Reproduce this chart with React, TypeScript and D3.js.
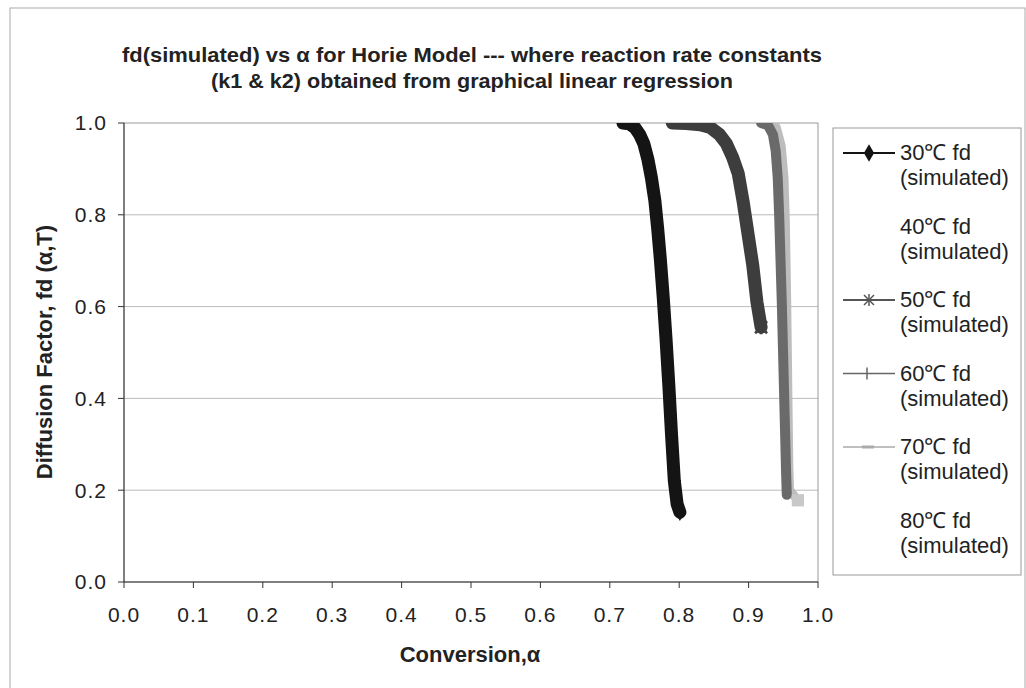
import * as d3 from 'd3';

// fd (simulated) vs conversion alpha
const alpha30 = [0.719, 0.728, 0.736, 0.743, 0.749, 0.755, 0.760, 0.765, 0.769, 0.773, 0.777, 0.781, 0.785, 0.789, 0.793, 0.797, 0.801];
const fd30 = [1.0, 0.998, 0.99, 0.975, 0.955, 0.92, 0.88, 0.83, 0.77, 0.70, 0.62, 0.53, 0.43, 0.32, 0.22, 0.17, 0.152];

const alpha50 = [0.79, 0.81, 0.83, 0.845, 0.858, 0.868, 0.877, 0.885, 0.892, 0.899, 0.906, 0.912, 0.918];
const fd50 = [1.0, 0.999, 0.996, 0.99, 0.975, 0.955, 0.925, 0.89, 0.83, 0.76, 0.69, 0.61, 0.555];

const alpha60 = [0.918, 0.928, 0.935, 0.939, 0.942, 0.944, 0.946, 0.948, 0.950, 0.952, 0.954, 0.955];
const fd60 = [1.0, 0.995, 0.975, 0.94, 0.88, 0.8, 0.7, 0.6, 0.48, 0.36, 0.24, 0.19];

const alpha70 = [0.93, 0.94, 0.947, 0.951, 0.953, 0.955, 0.956, 0.957, 0.958, 0.959, 0.971];
const fd70 = [1.0, 0.99, 0.95, 0.88, 0.78, 0.6, 0.48, 0.36, 0.25, 0.2, 0.178];

const legendLabels = ['30℃ fd', '40℃ fd', '50℃ fd', '60℃ fd', '70℃ fd', '80℃ fd'];
const xTicks = [0, 0.1, 0.2, 0.3, 0.4, 0.5, 0.6, 0.7, 0.8, 0.9, 1.0];
const yTicks = [0, 0.2, 0.4, 0.6, 0.8, 1.0];

const FONT = '"Liberation Sans", Arial, sans-serif';

type Pt = [number, number];
const zip = (a: number[], b: number[]): Pt[] => a.map((v, i) => [v, b[i]]);

export default function App() {
  const width = 1026;
  const height = 688;
  const x = d3.scaleLinear().domain([0, 1]).range([124, 818]);
  const y = d3.scaleLinear().domain([0, 1]).range([582, 123]);
  const line = d3.line<Pt>().x((d) => x(d[0])).y((d) => y(d[1]));

  const diamond = d3.symbol().type(d3.symbolDiamond).size(90)() as string;
  const square = d3.symbol().type(d3.symbolSquare).size(150)() as string;

  const series = [
    { pts: zip(alpha70, fd70), color: '#bdbdbd', w: 9 },
    { pts: zip(alpha30, fd30), color: '#141414', w: 13 },
    { pts: zip(alpha50, fd50), color: '#3d3d3d', w: 13 },
    { pts: zip(alpha60, fd60), color: '#6a6a6a', w: 10 },
  ];

  const legendTop = 153;
  const legendStep = 73.5;

  return (
    <svg
      width={width}
      height={height}
      style={{ position: 'absolute', left: 0, top: 0, background: '#fff' }}
      fontFamily={FONT}
    >
      <rect x={10} y={8} width={1015} height={700} fill="#fff" stroke="#aaa" />

      {/* title */}
      <text x={472} y={62} textAnchor="middle" fontSize={21} fontWeight="bold" fill="#222"
        textLength={700} lengthAdjust="spacingAndGlyphs">
        fd(simulated) vs α for Horie Model --- where reaction rate constants
      </text>
      <text x={472} y={88} textAnchor="middle" fontSize={21} fontWeight="bold" fill="#222"
        textLength={522} lengthAdjust="spacingAndGlyphs">
        (k1 &amp; k2) obtained from graphical linear regression
      </text>

      {/* grid */}
      {yTicks.filter((t) => t > 0 && t < 1).map((t) => (
        <line key={t} x1={x(0)} x2={x(1)} y1={y(t)} y2={y(t)} stroke="#bbb" />
      ))}
      <rect x={x(0)} y={y(1)} width={x(1) - x(0)} height={y(0) - y(1)} fill="none" stroke="#999" />

      {/* series */}
      <g clipPath="url(#plotClip)">
        {series.map((s, i) => (
          <path key={i} d={line(s.pts) ?? ''} fill="none" stroke={s.color} strokeWidth={s.w}
            strokeLinejoin="round" strokeLinecap="round" />
        ))}
      </g>
      <defs>
        <clipPath id="plotClip">
          <rect x={x(0)} y={y(1)} width={x(1) - x(0) + 30} height={y(0) - y(1)} />
        </clipPath>
      </defs>
      {/* end markers */}
      <path d={diamond} transform={`translate(${x(alpha30[alpha30.length - 1])},${y(fd30[fd30.length - 1])})`} fill="#141414" />
      <path d={square} transform={`translate(${x(alpha70[alpha70.length - 1])},${y(fd70[fd70.length - 1])})`} fill="#c8c8c8" />
      <g transform={`translate(${x(alpha50[alpha50.length - 1])},${y(fd50[fd50.length - 1])})`} stroke="#3d3d3d" strokeWidth={2.5}>
        <line x1={-6} x2={6} y1={-6} y2={6} />
        <line x1={-6} x2={6} y1={6} y2={-6} />
        <line x1={0} x2={0} y1={-7} y2={7} />
      </g>

      {/* axes */}
      <line x1={x(0)} x2={x(0)} y1={y(0)} y2={y(1)} stroke="#333" />
      <line x1={x(0)} x2={x(1)} y1={y(0)} y2={y(0)} stroke="#333" />
      {yTicks.map((t) => (
        <g key={t}>
          <line x1={x(0) - 6} x2={x(0)} y1={y(t)} y2={y(t)} stroke="#333" />
          <text x={107} y={y(t)} dy="0.35em" textAnchor="end" fontSize={21} fill="#222" letterSpacing={1}>
            {t.toFixed(1)}
          </text>
        </g>
      ))}
      {xTicks.map((t) => (
        <g key={t}>
          <line x1={x(t)} x2={x(t)} y1={y(0)} y2={y(0) + 6} stroke="#333" />
          <text x={x(t)} y={615} dy="0.35em" textAnchor="middle" fontSize={21} fill="#222" letterSpacing={1}>
            {t.toFixed(1)}
          </text>
        </g>
      ))}

      <text x={470} y={662} textAnchor="middle" fontSize={22} fontWeight="bold" fill="#222">
        Conversion,α
      </text>
      <text transform="translate(52,352) rotate(-90)" textAnchor="middle" fontSize={22} fontWeight="bold" fill="#222">
        Diffusion Factor, fd (α,T)
      </text>

      {/* legend */}
      <rect x={833} y={128} width={188} height={447} fill="#fff" stroke="#999" />
      {legendLabels.map((lab, i) => {
        const yc = legendTop + i * legendStep;
        return (
          <g key={lab}>
            {i === 0 && (
              <>
                <line x1={843} x2={895} y1={yc} y2={yc} stroke="#141414" strokeWidth={2} />
                <path d={diamond} transform={`translate(869,${yc})`} fill="#141414" />
              </>
            )}
            {i === 2 && (
              <>
                <line x1={843} x2={895} y1={yc} y2={yc} stroke="#555" strokeWidth={2} />
                <g transform={`translate(869,${yc})`} stroke="#555" strokeWidth={1.5}>
                  <line x1={-5} x2={5} y1={-5} y2={5} />
                  <line x1={-5} x2={5} y1={5} y2={-5} />
                  <line x1={0} x2={0} y1={-6} y2={6} />
                </g>
              </>
            )}
            {i === 3 && (
              <>
                <line x1={843} x2={895} y1={yc} y2={yc} stroke="#666" strokeWidth={1.5} />
                <line x1={867} x2={867} y1={yc - 6} y2={yc + 6} stroke="#666" strokeWidth={1.5} />
              </>
            )}
            {i === 4 && (
              <>
                <line x1={843} x2={895} y1={yc} y2={yc} stroke="#aaa" strokeWidth={1.5} />
                <line x1={862} x2={874} y1={yc} y2={yc} stroke="#aaa" strokeWidth={3} />
              </>
            )}
            <text x={900} y={yc + 7} fontSize={22} fill="#222">{lab}</text>
            <text x={900} y={yc + 32} fontSize={22} fill="#222">(simulated)</text>
          </g>
        );
      })}
    </svg>
  );
}
